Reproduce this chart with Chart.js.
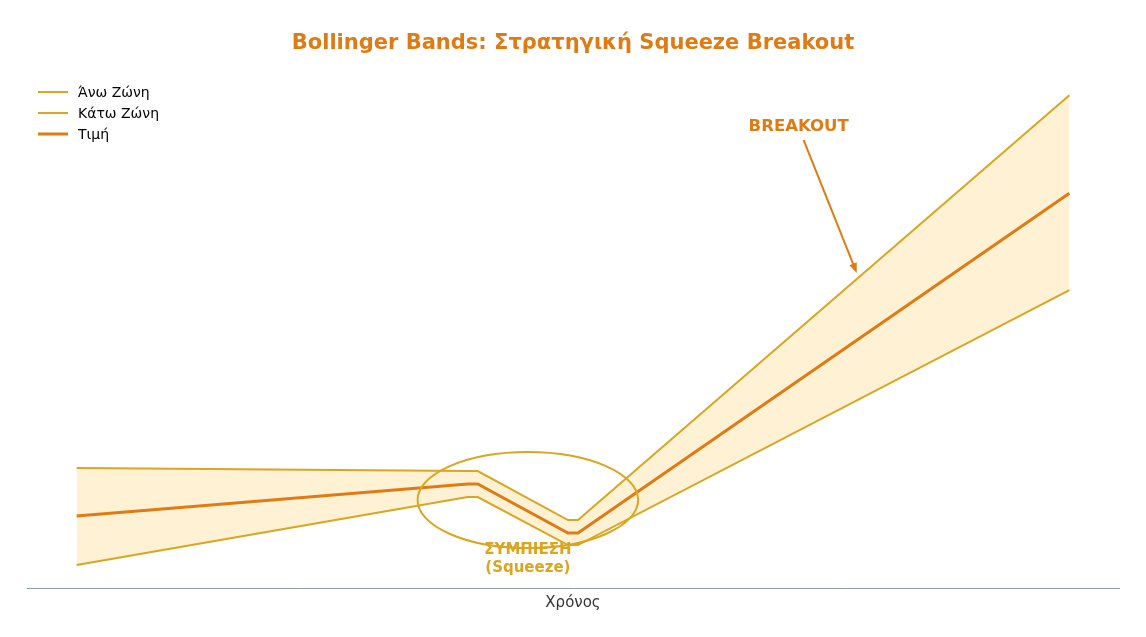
<!DOCTYPE html>
<html lang="el">
<head>
  <meta charset="UTF-8" />
  <title>Bollinger Bands</title>
  <script src="https://cdn.jsdelivr.net/npm/chart.js"></script>
  <style>
    body { margin: 0; background: #ffffff; }
    #wrap { width: 1146px; height: 637px; }
  </style>
</head>
<body>
  <div id="wrap"><canvas id="bbChart" width="1146" height="637"></canvas></div>
  <script>
    // time steps where the series change direction
    const steps = [0, 39, 40, 49, 50, 99];
    const upperBand = [104.8, 104.5, 104.5, 99.6, 99.6, 142.1];
    const lowerBand = [95.1, 101.9, 101.9, 97.1, 97.1, 122.6];
    const price = [100.0, 103.2, 103.2, 98.3, 98.3, 132.3];

    const seriesNames = ['Άνω Ζώνη', 'Κάτω Ζώνη', 'Τιμή'];

    const ORANGE = '#e07b14';
    const GOLD = '#daa520';
    const FILL = '#fff2d4';
    const FONT = "'DejaVu Sans', sans-serif";

    const toPoints = vals => steps.map((s, i) => ({ x: s, y: vals[i] }));

    // ellipse, texts, arrow and legend drawn on top of the plot
    const overlay = {
      id: 'overlay',
      afterDatasetsDraw(chart) {
        const { ctx, scales: { x, y } } = chart;
        ctx.save();

        // squeeze ellipse
        const cx = x.getPixelForValue(45), cy = y.getPixelForValue(101.6);
        const rx = Math.abs(x.getPixelForValue(56) - cx);
        const ry = Math.abs(y.getPixelForValue(106.4) - cy);
        ctx.beginPath();
        ctx.ellipse(cx, cy, rx, ry, 0, 0, Math.PI * 2);
        ctx.strokeStyle = GOLD;
        ctx.lineWidth = 2;
        ctx.stroke();

        ctx.fillStyle = GOLD;
        ctx.font = 'bold 15px ' + FONT;
        ctx.textAlign = 'center';
        ctx.textBaseline = 'middle';
        ctx.fillText('ΣΥΜΠΙΕΣΗ', cx, y.getPixelForValue(96.6));
        ctx.fillText('(Squeeze)', cx, y.getPixelForValue(94.8));

        // breakout arrow
        const tx = x.getPixelForValue(72.0), ty = y.getPixelForValue(138.9);
        ctx.fillStyle = ORANGE;
        ctx.font = 'bold 16.5px ' + FONT;
        ctx.fillText('BREAKOUT', tx, ty);
        const ax = x.getPixelForValue(72.5), ay = y.getPixelForValue(137.6);
        const bx = x.getPixelForValue(77.8), by = y.getPixelForValue(124.3);
        const ang = Math.atan2(by - ay, bx - ax);
        ctx.strokeStyle = ORANGE;
        ctx.lineWidth = 2;
        ctx.beginPath();
        ctx.moveTo(ax, ay);
        ctx.lineTo(bx - 8 * Math.cos(ang), by - 8 * Math.sin(ang));
        ctx.stroke();
        ctx.beginPath();
        ctx.moveTo(bx, by);
        ctx.lineTo(bx - 10 * Math.cos(ang) + 4 * Math.sin(ang), by - 10 * Math.sin(ang) - 4 * Math.cos(ang));
        ctx.lineTo(bx - 10 * Math.cos(ang) - 4 * Math.sin(ang), by - 10 * Math.sin(ang) + 4 * Math.cos(ang));
        ctx.closePath();
        ctx.fill();

        // legend, top left
        const cols = [GOLD, GOLD, ORANGE];
        const widths = [2, 2, 3];
        ctx.font = '14px ' + FONT;
        ctx.textAlign = 'left';
        seriesNames.forEach((name, i) => {
          const ly = 92 + i * 21;
          ctx.strokeStyle = cols[i];
          ctx.lineWidth = widths[i];
          ctx.beginPath();
          ctx.moveTo(38, ly);
          ctx.lineTo(68, ly);
          ctx.stroke();
          ctx.fillStyle = '#000000';
          ctx.fillText(name, 78, ly + 1);
        });
        ctx.restore();
      }
    };

    new Chart(document.getElementById('bbChart'), {
      type: 'line',
      data: {
        datasets: [
          {
            label: seriesNames[0],
            data: toPoints(upperBand),
            borderColor: GOLD,
            borderWidth: 2,
            backgroundColor: FILL,
            fill: '+1',
            pointRadius: 0,
            tension: 0,
            order: 2
          },
          {
            label: seriesNames[1],
            data: toPoints(lowerBand),
            borderColor: GOLD,
            borderWidth: 2,
            fill: false,
            pointRadius: 0,
            tension: 0,
            order: 2
          },
          {
            label: seriesNames[2],
            data: toPoints(price),
            borderColor: ORANGE,
            borderWidth: 3,
            fill: false,
            pointRadius: 0,
            tension: 0,
            order: 1
          }
        ]
      },
      options: {
        responsive: false,
        animation: false,
        layout: { padding: { left: 27, right: 27, top: 0, bottom: 22 } },
        plugins: {
          legend: { display: false },
          tooltip: { enabled: false },
          filler: { drawTime: 'beforeDatasetsDraw' },
          title: {
            display: true,
            text: 'Bollinger Bands: Στρατηγική Squeeze Breakout',
            color: ORANGE,
            font: { family: FONT, size: 21, weight: 'bold' },
            padding: { top: 31, bottom: 15.5 }
          }
        },
        scales: {
          x: {
            type: 'linear',
            min: -4.95,
            max: 103.95,
            ticks: { display: false },
            grid: { display: false },
            border: { display: true, color: '#8c9bab', width: 1 },
            title: {
              display: true,
              text: 'Χρόνος',
              color: '#333333',
              font: { family: FONT, size: 15 },
              padding: { top: -2, bottom: 3 }
            }
          },
          y: {
            display: false,
            min: 92.8,
            max: 144.45
          }
        }
      },
      plugins: [overlay]
    });
  </script>
</body>
</html>
